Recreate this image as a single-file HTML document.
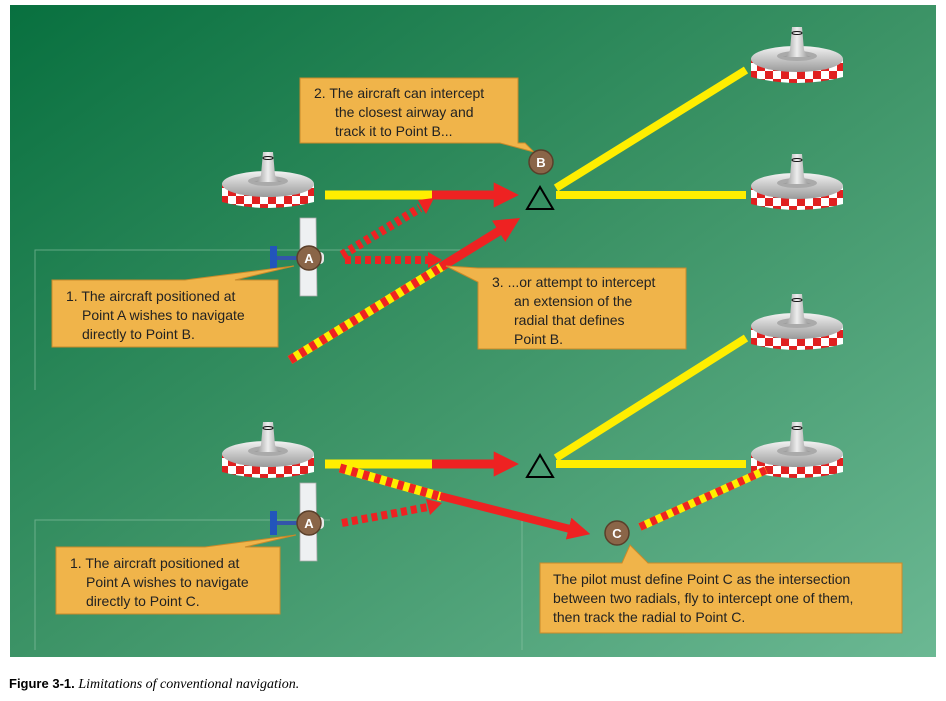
<!DOCTYPE html>
<html><head><style>
body{margin:0;background:#fff;width:946px;height:701px;overflow:hidden;font-family:"Liberation Sans",sans-serif}
.cap{position:absolute;left:9px;top:676px;font-size:13px;color:#000}
.cap i{font-family:"Liberation Serif",serif;font-size:14px}
</style></head><body>
<svg width="946" height="701" style="position:absolute;left:0;top:0">
<defs>
<linearGradient id="bg" x1="0" y1="0" x2="1" y2="1">
<stop offset="0" stop-color="#08703f"/><stop offset="0.5" stop-color="#3c9366"/><stop offset="1" stop-color="#6bb893"/>
</linearGradient>
<linearGradient id="disk" x1="0" y1="0" x2="0" y2="1"><stop offset="0" stop-color="#f2f2f2"/><stop offset="1" stop-color="#9a9a9a"/></linearGradient>
<linearGradient id="spk" x1="0" y1="0" x2="1" y2="0"><stop offset="0" stop-color="#888"/><stop offset="0.5" stop-color="#eee"/><stop offset="1" stop-color="#888"/></linearGradient>
<pattern id="chk" width="16" height="16" patternUnits="userSpaceOnUse">
<rect width="16" height="16" fill="#fff"/><rect width="8" height="8" fill="#e02020"/><rect x="8" y="8" width="8" height="8" fill="#e02020"/></pattern>
<g id="vor">
<path d="M-46,4 L-46,22 Q0,34 46,22 L46,4 Z" fill="url(#chk)"/>
<ellipse cx="0" cy="4" rx="46" ry="13" fill="url(#disk)"/>
<ellipse cx="0" cy="1" rx="20" ry="5" fill="#aaa"/>
<path d="M-5,-28 L5,-28 L7,-5 Q10,2 14,2 L-14,2 Q-10,2 -7,-5 Z" fill="url(#spk)"/>
<ellipse cx="0" cy="-22" rx="5" ry="1.5" fill="none" stroke="#111" stroke-width="1"/>
</g>
<marker id="ar" viewBox="0 0 4 4" markerWidth="2.8" markerHeight="3" refX="1" refY="2" orient="auto"><path d="M0,0 L4,2 L0,4 Z" fill="#ee2222"/></marker>
<g id="plane">
<rect x="-36" y="-2" width="30" height="4" fill="#3355aa"/>
<rect x="-38" y="-12" width="7" height="24" fill="#2255bb"/>
<path d="M-8,-40 L8,-40 L9,38 L-8,38 Z" fill="#eef0f2" stroke="#aaa" stroke-width="0.8"/>
<rect x="-4" y="-6" width="20" height="12" rx="4" fill="#e8e8e8"/>
</g>
</defs>
<rect x="10" y="5" width="926" height="652" fill="url(#bg)"/>
<g stroke="#8fc4a6" stroke-width="1" opacity="0.6" fill="none">
<path d="M35,390 V250 H475"/><path d="M35,650 V520 H330"/><path d="M522,650 V520"/>
</g>
<use href="#vor" x="268" y="180"/>
<use href="#vor" x="797" y="55"/>
<use href="#vor" x="797" y="182"/>
<use href="#vor" x="797" y="322"/>
<use href="#vor" x="268" y="450"/>
<use href="#vor" x="797" y="450"/>
<line x1="325" y1="195" x2="432" y2="195" stroke="#ffee00" stroke-width="9"/>
<line x1="432" y1="195" x2="500" y2="195" stroke="#ee2222" stroke-width="9" marker-end="url(#ar)"/>
<line x1="556" y1="188" x2="746" y2="70" stroke="#ffee00" stroke-width="8"/>
<line x1="556" y1="195" x2="746" y2="195" stroke="#ffee00" stroke-width="8"/>
<path d="M527,209 L553,209 L540,187 Z" fill="none" stroke="#000" stroke-width="2"/>
<line x1="342" y1="255" x2="420" y2="208" stroke="#ee2222" stroke-width="9" stroke-dasharray="5,4"/>
<path d="M418,200 L434,198 L426,214 Z" fill="#ee2222"/>
<line x1="345" y1="260" x2="428" y2="260" stroke="#ee2222" stroke-width="8" stroke-dasharray="6,4"/>
<path d="M428,252 L442,260 L428,268 Z" fill="#ee2222"/>
<line x1="290" y1="360" x2="443" y2="266" stroke="#ffee00" stroke-width="9"/>
<line x1="290" y1="360" x2="443" y2="266" stroke="#ee2222" stroke-width="9" stroke-dasharray="6,6"/>
<line x1="441" y1="267" x2="504" y2="228" stroke="#ee2222" stroke-width="9" marker-end="url(#ar)"/>
<line x1="325" y1="464" x2="432" y2="464" stroke="#ffee00" stroke-width="9"/>
<line x1="432" y1="464" x2="500" y2="464" stroke="#ee2222" stroke-width="9" marker-end="url(#ar)"/>
<line x1="556" y1="458" x2="746" y2="338" stroke="#ffee00" stroke-width="8"/>
<line x1="556" y1="464" x2="746" y2="464" stroke="#ffee00" stroke-width="8"/>
<path d="M527,477 L553,477 L540,455 Z" fill="none" stroke="#000" stroke-width="2"/>
<line x1="340" y1="468" x2="442" y2="497" stroke="#ffee00" stroke-width="9"/>
<line x1="340" y1="468" x2="442" y2="497" stroke="#ee2222" stroke-width="9" stroke-dasharray="6,6"/>
<line x1="440" y1="496" x2="574" y2="530" stroke="#ee2222" stroke-width="8" marker-end="url(#ar)"/>
<line x1="640" y1="527" x2="766" y2="470" stroke="#ffee00" stroke-width="8"/>
<line x1="640" y1="527" x2="766" y2="470" stroke="#ee2222" stroke-width="8" stroke-dasharray="6,6"/>
<line x1="342" y1="523" x2="428" y2="507" stroke="#ee2222" stroke-width="8" stroke-dasharray="6,4"/>
<path d="M426,499 L442,503 L430,515 Z" fill="#ee2222"/>
<use href="#plane" x="308" y="258"/>
<use href="#plane" x="308" y="523"/>
<g fill="#f0b44a" stroke="#c98a2a" stroke-width="1">
<path d="M300,78 H518 V143 H525 L534,152 L500,143 H300 Z"/>
<path d="M52,280 H185 L294,266 L235,280 H278 V347 H52 Z"/>
<path d="M478,268 H686 V349 H478 V282 L446,266 L478,268 Z"/>
<path d="M56,547 H205 L296,535 L245,547 H280 V614 H56 Z"/>
<path d="M540,563 H622 L630,545 L648,563 H902 V633 H540 Z"/>
</g>
<g fill="#8a6548" stroke="#5a3f2a" stroke-width="1.5">
<circle cx="541" cy="162" r="12"/><circle cx="309" cy="258" r="12"/><circle cx="309" cy="523" r="12"/><circle cx="617" cy="533" r="12"/>
</g>
<g fill="#fff" font-family="Liberation Sans,sans-serif" font-weight="bold" font-size="13" text-anchor="middle">
<text x="541" y="167">B</text><text x="309" y="263">A</text><text x="309" y="528">A</text><text x="617" y="538">C</text>
</g>
<g fill="#222" font-family="Liberation Sans,sans-serif" font-size="14">
<text x="314" y="98">2.  The aircraft can intercept</text>
<text x="335" y="117">the closest airway and</text>
<text x="335" y="136">track it to Point B...</text>
<text x="66" y="301">1. The aircraft positioned at</text>
<text x="82" y="320">Point A wishes to navigate</text>
<text x="82" y="339">directly to Point B.</text>
<text x="492" y="287">3.  ...or attempt to intercept</text>
<text x="514" y="306">an extension of the</text>
<text x="514" y="325">radial that defines</text>
<text x="514" y="344">Point B.</text>
<text x="70" y="568">1. The aircraft positioned at</text>
<text x="86" y="587">Point A wishes to navigate</text>
<text x="86" y="606">directly to Point C.</text>
<text x="553" y="584">The pilot must define Point C as the intersection</text>
<text x="553" y="603">between two radials, fly to intercept one of them,</text>
<text x="553" y="622">then track the radial to Point C.</text>
</g>
</svg>
<div class="cap"><b>Figure 3-1.</b> <i>Limitations of conventional navigation.</i></div>
</body></html>
